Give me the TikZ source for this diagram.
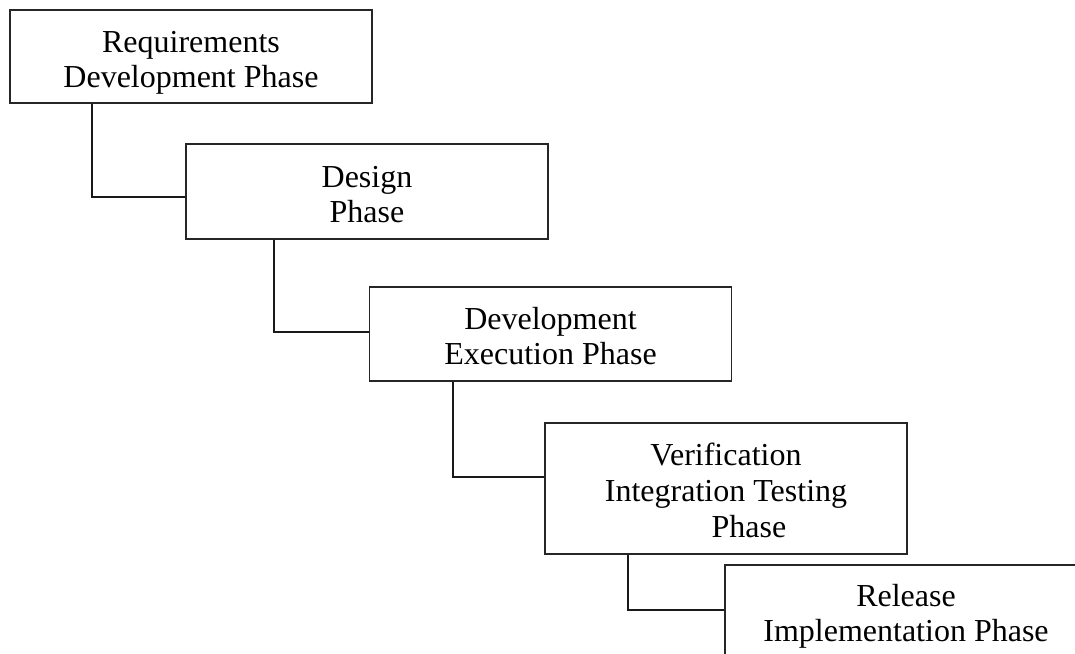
\documentclass[tikz,border=0pt]{standalone}
\usepackage{fontspec}
\setmainfont{Liberation Serif}
\begin{document}
\begin{tikzpicture}[x=1pt,y=1pt,
  phase/.style={draw=black!85, line width=1.2pt, rectangle, minimum width=362pt, inner sep=0pt},
  label/.style={inner sep=0pt, align=center, font=\fontsize{32}{35}\selectfont},
  link/.style={draw=black!90, line width=2pt}]
\useasboundingbox (0,0) rectangle (1075,653);
\clip (0,0) rectangle (1075,653);
\node[phase, minimum height=93pt] (b1) at (191,596.5) {};
\node[phase, minimum height=95pt] (b2) at (367,461.5) {};
\node[phase, minimum height=94pt] (b3) at (550.5,319) {};
\node[phase, minimum height=131pt] (b4) at (726,164.5) {};
\node[phase, minimum height=95pt] (b5) at (906,40.5) {};
\node[label] (t1) at ([yshift=-6.5pt]b1.center) {Requirements\\Development Phase};
\node[label] (t2) at ([yshift=-3pt]b2.center) {Design\\Phase};
\node[label] (t3) at ([yshift=-2.5pt]b3.center) {Development\\Execution Phase};
\node[label, font=\fontsize{32}{36}\selectfont] (t4) at ([yshift=-1.5pt]b4.center) {Verification\\Integration Testing\\\hspace*{46pt}Phase};
\node[label] (t5) at ([yshift=-4pt]b5.center) {Release\\Implementation Phase};
\draw[link] ([xshift=83pt]b1.south west) |- ([yshift=-5.5pt]b2.west);
\draw[link] ([xshift=89pt]b2.south west) |- ([yshift=2pt]b3.west);
\draw[link] ([xshift=84pt]b3.south west) |- ([yshift=11.5pt]b4.west);
\draw[link] ([xshift=84pt]b4.south west) |- ([yshift=3pt]b5.west);
\end{tikzpicture}
\end{document}
